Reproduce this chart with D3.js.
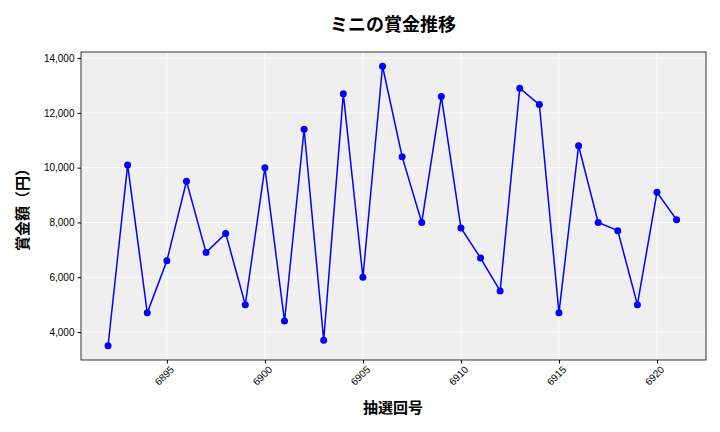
<!DOCTYPE html>
<html><head><meta charset="utf-8">
<script src="https://cdn.jsdelivr.net/npm/d3@7"></script>
<style>
body{margin:0;background:#fff;font-family:"Noto Sans CJK JP","Noto Sans",sans-serif;}
.tick text{font-size:10px;fill:#000;}
</style></head>
<body><svg width="720" height="432"></svg>
<script>
// 抽選回と賞金額
var draws = [6892,6893,6894,6895,6896,6897,6898,6899,6900,6901,6902,6903,6904,6905,6906,
    6907,6908,6909,6910,6911,6912,6913,6914,6915,6916,6917,6918,6919,6920,6921];
var prizes = [3500,10100,4700,6600,9500,6900,7600,5000,10000,4400,11400,3700,12700,6000,13700,
    10400,8000,12600,7800,6700,5500,12900,12300,4700,10800,8000,7700,5000,9100,8100];
var xTickVals = [6895,6900,6905,6910,6915,6920];
var yTickVals = [4000,6000,8000,10000,12000,14000];

const svg = d3.select('svg');
const margin = {left: 81, right: 14, top: 52, bottom: 72};
const innerWidth = 720 - margin.left - margin.right;
const innerHeight = 432 - margin.top - margin.bottom;
const data = draws.map((d, i) => ({x: d, y: prizes[i]}));

const xScale = d3.scaleLinear().domain([6890.62, 6922.5]).range([0, innerWidth]);
const yScale = d3.scaleLinear().domain([2980, 14220]).range([innerHeight, 0]);

const g = svg.append('g').attr('transform', `translate(${margin.left},${margin.top})`);
g.append('rect').attr('width', innerWidth).attr('height', innerHeight).attr('fill', '#efefef');

// グリッド
g.selectAll('.gx').data(xTickVals).enter().append('line')
    .attr('x1', d => xScale(d)).attr('x2', d => xScale(d))
    .attr('y1', 0).attr('y2', innerHeight).attr('stroke', '#fff');
g.selectAll('.gy').data(yTickVals).enter().append('line')
    .attr('y1', d => yScale(d)).attr('y2', d => yScale(d))
    .attr('x1', 0).attr('x2', innerWidth).attr('stroke', '#fff');

g.append('rect').attr('width', innerWidth).attr('height', innerHeight)
    .attr('fill', 'none').attr('stroke', '#000').attr('stroke-width', 0.8);

const xAxisG = g.append('g').attr('transform', `translate(0,${innerHeight})`)
    .call(d3.axisBottom(xScale).tickValues(xTickVals).tickFormat(d => d).tickSize(3.5));
xAxisG.selectAll('text').attr('text-anchor', 'end')
    .attr('transform', 'rotate(-45)').attr('dx', '-0.2em').attr('dy', '0.6em');
const yAxisG = g.append('g')
    .call(d3.axisLeft(yScale).tickValues(yTickVals).tickFormat(d3.format(',')).tickSize(3.5));
xAxisG.select('.domain').remove();
yAxisG.select('.domain').remove();

const line = d3.line().x(d => xScale(d.x)).y(d => yScale(d.y));
g.append('path').datum(data).attr('d', line)
    .attr('fill', 'none').attr('stroke', '#0000ff').attr('stroke-width', 1.5);
g.selectAll('.pt').data(data).enter().append('circle')
    .attr('cx', d => xScale(d.x)).attr('cy', d => yScale(d.y))
    .attr('r', 3.5).attr('fill', '#0000ff');

svg.append('text').attr('x', 393).attr('y', 31).attr('text-anchor', 'middle')
    .attr('font-size', 18).attr('font-weight', 'bold').text('ミニの賞金推移');
svg.append('text').attr('x', 393).attr('y', 413).attr('text-anchor', 'middle')
    .attr('font-size', 15).attr('font-weight', 'bold').text('抽選回号');
svg.append('text').attr('transform', 'translate(28,206) rotate(-90)').attr('text-anchor', 'middle')
    .attr('font-size', 15).attr('font-weight', 'bold').text('賞金額（円）');
</script></body></html>
